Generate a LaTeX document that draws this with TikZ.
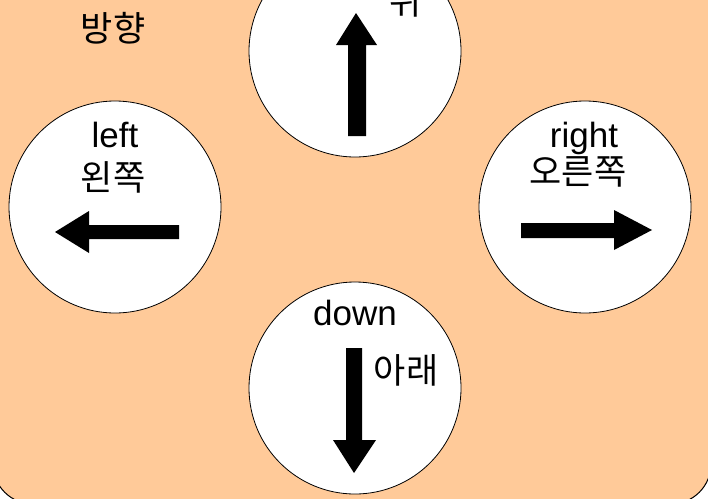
\documentclass[tikz,border=0pt]{standalone}
\usepackage{fontspec}
\setmainfont{Liberation Sans}
\newfontfamily\krfont{Noto Sans CJK KR}
\definecolor{peach}{HTML}{FFCA99}
\begin{document}
\begin{tikzpicture}[x=1pt,y=-1pt,
  dial/.style={circle,draw=black,line width=0.8pt,fill=white,minimum size=212pt,inner sep=0pt},
  en/.style={font=\fontsize{35}{40}\selectfont,anchor=base,inner sep=0pt},
  kr/.style={font=\krfont\fontsize{35}{40}\selectfont,anchor=center,inner sep=0pt},
  blockarrow/.style={fill=black}]
\useasboundingbox (0,0) rectangle (708,498);
\fill[white] (0,0) rectangle (708,498);
\draw[fill=peach,line width=1pt,rounded corners=40pt] (-7,-60) rectangle (711,504);
\node[kr] (title) at (113,28) {방향};
% dials
\node[dial] (up) at (355,51) {};
\node[dial] (left) at (115,207) {};
\node[dial] (right) at (585,207) {};
\node[dial] (down) at (355,388) {};
% labels
\node[kr] (upkr) at (406,1) {위};
\node[en] (lefen) at (115,147) {left};
\node[kr] (lefkr) at (113,177) {왼쪽};
\node[en] (rigen) at (584,147) {right};
\node[kr] (rigkr) at (578,172) {오른쪽};
\node[en] (dowen) at (355,325) {down};
\node[kr] (dowkr) at (406,370) {아래};
% block arrows
\fill[blockarrow] (356,13) -- (377,45) -- (366,45) -- (366,136) -- (348,136) -- (348,45) -- (336,45) -- cycle;
\fill[blockarrow] (55,232) -- (89,211) -- (89,225) -- (179,225) -- (179,239) -- (89,239) -- (89,253) -- cycle;
\fill[blockarrow] (652,230) -- (614,210) -- (614,223) -- (521,223) -- (521,238) -- (614,238) -- (614,250) -- cycle;
\fill[blockarrow] (354,473) -- (376,440) -- (362,440) -- (362,348) -- (346,348) -- (346,440) -- (333,440) -- cycle;
\end{tikzpicture}
\end{document}
